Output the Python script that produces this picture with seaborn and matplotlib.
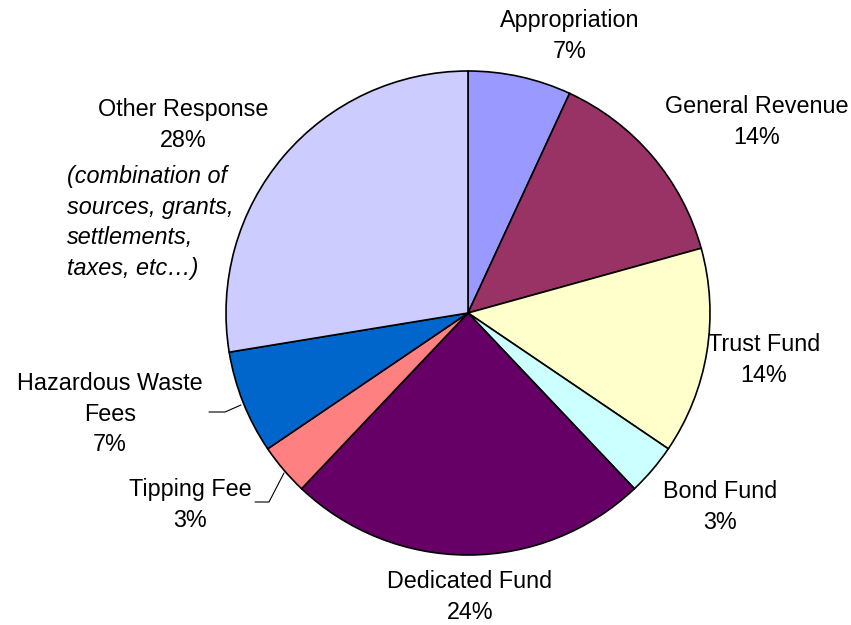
import matplotlib
matplotlib.use("Agg")
import matplotlib.pyplot as plt
import seaborn as sns

sns.set_theme(style="white")
plt.rcParams['font.family'] = ['Liberation Sans', 'DejaVu Sans']
plt.rcParams['text.color'] = 'black'

categories = ["Appropriation", "General Revenue", "Trust Fund", "Bond Fund",
              "Dedicated Fund", "Tipping Fee", "Hazardous Waste\nFees", "Other Response"]
counts = [2, 4, 4, 1, 7, 1, 2, 8]
pct_labels = ["7%", "14%", "14%", "3%", "24%", "3%", "7%", "28%"]
colors = ["#9999FF", "#993366", "#FFFFCC", "#CCFFFF",
          "#660066", "#FF8080", "#0066CC", "#CCCCFF"]
other_note = "(combination of\nsources, grants,\nsettlements,\ntaxes, etc\u2026)"

W, H = 851, 625
fig = plt.figure(figsize=(W / 100, H / 100), dpi=100)
ax = fig.add_axes([0, 0, 1, 1])
cx, cy, r = 468, H - 313, 242
ax.pie(counts, colors=colors, startangle=90, counterclock=False,
       center=(cx, cy), radius=r,
       wedgeprops=dict(edgecolor="black", linewidth=1.2))
ax.set_xlim(0, W)
ax.set_ylim(0, H)
ax.set_aspect("equal")
ax.axis("off")

fs = 16.8
ls = 1.42
# label positions in pixel coordinates (x, y of first line center)
pos = [(570, 19), (757, 105), (764, 343), (720, 490), (470, 580),
       (190, 488), (110, 382), (183, 108)]
for (x, y), cat, p in zip(pos, categories, pct_labels):
    txt = cat + "\n" + p
    ax.text(x, H - y + 10, txt, ha="center", va="top", fontsize=fs,
            linespacing=ls, color="black")

ax.text(67, H - 175 + 10, other_note, ha="left", va="top", fontsize=fs,
        style="italic", linespacing=ls, color="black")

# leader lines
ax.plot([209, 225, 241], [H - 412, H - 412, H - 405], color="black", lw=0.8)
ax.plot([255, 269, 284], [H - 502, H - 502, H - 473], color="black", lw=0.8)

fig.savefig("out.png", dpi=100, facecolor="white")
